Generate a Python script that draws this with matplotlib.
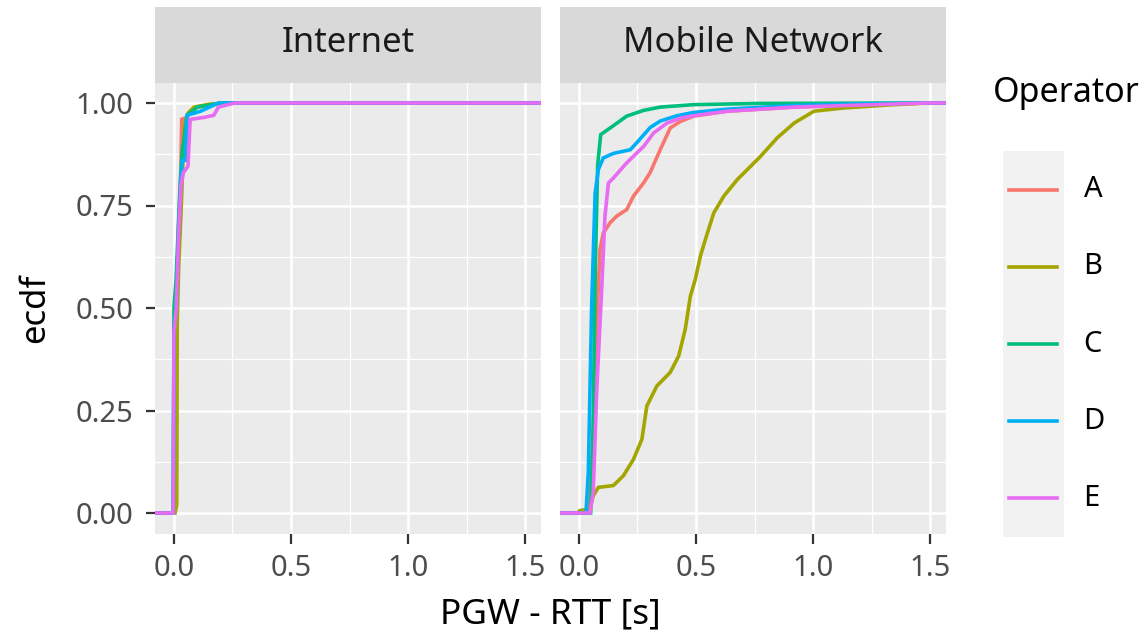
import matplotlib
matplotlib.use("Agg")
import matplotlib.pyplot as plt
from matplotlib.ticker import MultipleLocator

plt.rcParams['font.family'] = ['Noto Sans', 'DejaVu Sans']

# ---------------- data ----------------
operators = ["A", "B", "C", "D", "E"]
colors = ["#F8766D", "#A3A500", "#00BF7D", "#00B0F6", "#E76BF3"]
panel_titles = ["Internet", "Mobile Network"]
x_ticks = [0.0, 0.5, 1.0, 1.5]
x_tick_labels = ["0.0", "0.5", "1.0", "1.5"]
y_ticks = [0.0, 0.25, 0.5, 0.75, 1.0]
y_tick_labels = ["0.00", "0.25", "0.50", "0.75", "1.00"]

# Internet panel
inet_A_x = [-0.006, -0.002, 0.0, 0.01, 0.02, 0.03, 0.033, 0.055, 0.07, 0.1, 0.2, 1.49]
inet_A_y = [0.0, 0.0, 0.40, 0.50, 0.70, 0.85, 0.96, 0.965, 0.98, 0.99, 1.0, 1.0]
inet_B_x = [-0.006, 0.005, 0.012, 0.014, 0.02, 0.03, 0.04, 0.045, 0.06, 0.086, 0.15, 0.25, 1.49]
inet_B_y = [0.0, 0.0, 0.02, 0.46, 0.60, 0.73, 0.88, 0.95, 0.975, 0.99, 0.997, 1.0, 1.0]
inet_C_x = [-0.006, -0.003, 0.0, 0.005, 0.008, 0.015, 0.025, 0.035, 0.057, 0.1, 0.2, 1.49]
inet_C_y = [0.0, 0.0, 0.50, 0.54, 0.56, 0.65, 0.78, 0.88, 0.97, 0.99, 1.0, 1.0]
inet_D_x = [-0.006, -0.003, 0.0, 0.01, 0.02, 0.03, 0.035, 0.05, 0.055, 0.114, 0.19, 1.49]
inet_D_y = [0.0, 0.0, 0.45, 0.50, 0.70, 0.82, 0.86, 0.86, 0.97, 0.98, 1.0, 1.0]
inet_E_x = [-0.006, -0.003, 0.0, 0.01, 0.02, 0.03, 0.04, 0.06, 0.069, 0.13, 0.17, 0.19, 0.26, 1.49]
inet_E_y = [0.0, 0.0, 0.44, 0.50, 0.68, 0.80, 0.83, 0.846, 0.96, 0.965, 0.97, 0.99, 1.0, 1.0]

# Mobile Network panel
mob_A_x = [-0.006, 0.044, 0.061, 0.076, 0.09, 0.104, 0.133, 0.161, 0.204, 0.233, 0.276, 0.304,
           0.347, 0.39, 0.433, 0.49, 0.633, 0.919, 1.347, 1.49]
mob_A_y = [0.0, 0.0, 0.20, 0.464, 0.643, 0.683, 0.708, 0.724, 0.74, 0.773, 0.805, 0.83,
           0.886, 0.939, 0.955, 0.968, 0.98, 0.99, 0.998, 1.0]
mob_B_x = [-0.006, 0.004, 0.047, 0.061, 0.083, 0.147, 0.19, 0.233, 0.269, 0.29, 0.333, 0.39,
           0.426, 0.454, 0.476, 0.497, 0.519, 0.54, 0.576, 0.619, 0.676, 0.776, 0.847, 0.919,
           1.004, 1.133, 1.347, 1.49]
mob_B_y = [0.0, 0.006, 0.01, 0.042, 0.0625, 0.067, 0.091, 0.131, 0.18, 0.261, 0.31, 0.343,
           0.383, 0.448, 0.529, 0.57, 0.627, 0.667, 0.732, 0.773, 0.813, 0.87, 0.915, 0.951,
           0.98, 0.988, 0.996, 1.0]
mob_C_x = [-0.006, 0.05, 0.06, 0.07, 0.08, 0.093, 0.133, 0.204, 0.276, 0.347, 0.49, 0.776, 1.49]
mob_C_y = [0.0, 0.0, 0.20, 0.60, 0.85, 0.923, 0.939, 0.968, 0.982, 0.99, 0.996, 0.999, 1.0]
mob_D_x = [-0.006, 0.03, 0.04, 0.054, 0.069, 0.083, 0.104, 0.147, 0.219, 0.247, 0.304, 0.347,
           0.419, 0.49, 0.633, 0.919, 1.2, 1.49]
mob_D_y = [0.0, 0.0, 0.10, 0.50, 0.78, 0.838, 0.866, 0.877, 0.886, 0.903, 0.94, 0.956,
           0.969, 0.977, 0.985, 0.994, 0.998, 1.0]
mob_E_x = [-0.006, 0.047, 0.061, 0.076, 0.097, 0.111, 0.126, 0.147, 0.204, 0.276, 0.319, 0.376,
           0.433, 0.49, 0.633, 0.919, 1.204, 1.49]
mob_E_y = [0.0, 0.0, 0.05, 0.30, 0.545, 0.724, 0.805, 0.817, 0.854, 0.894, 0.927, 0.951,
           0.963, 0.969, 0.98, 0.99, 0.995, 1.0]

internet_series = [(inet_A_x, inet_A_y), (inet_B_x, inet_B_y), (inet_C_x, inet_C_y),
                   (inet_D_x, inet_D_y), (inet_E_x, inet_E_y)]
mobile_series = [(mob_A_x, mob_A_y), (mob_B_x, mob_B_y), (mob_C_x, mob_C_y),
                 (mob_D_x, mob_D_y), (mob_E_x, mob_E_y)]

# ---------------- layout ----------------
W, H = 1147, 634
fig = plt.figure(figsize=(W / 100, H / 100), dpi=100)


def fx(px):
    return px / W


def fy(py):
    return 1 - py / H


XLIM = (-0.081, 1.568)
YLIM = (-0.05, 1.05)
PANEL_TOP, PANEL_BOTTOM = 82.5, 533.5
STRIP_TOP = 7
panel_px = [(155, 541), (560, 946)]
LW = 2.6

for i, (title, (l, r), series) in enumerate(zip(panel_titles, panel_px,
                                                 [internet_series, mobile_series])):
    ax = fig.add_axes([fx(l), fy(PANEL_BOTTOM), fx(r) - fx(l), fy(PANEL_TOP) - fy(PANEL_BOTTOM)])
    ax.set_facecolor("#EBEBEB")
    for s in ax.spines.values():
        s.set_visible(False)
    ax.set_xlim(*XLIM)
    ax.set_ylim(*YLIM)
    ax.set_xticks(x_ticks)
    ax.set_xticklabels(x_tick_labels)
    ax.xaxis.set_minor_locator(MultipleLocator(0.25))
    ax.yaxis.set_minor_locator(MultipleLocator(0.125))
    ax.set_yticks(y_ticks)
    if i == 0:
        ax.set_yticklabels(y_tick_labels)
        ax.tick_params(axis="y", which="major", length=6.5, width=1.6, color="#333333",
                       labelcolor="#4D4D4D", labelsize=21, pad=9)
    else:
        ax.tick_params(axis="y", which="major", length=0, labelleft=False)
    ax.tick_params(axis="x", which="major", length=7.5, width=1.6, color="#333333",
                   labelcolor="#4D4D4D", labelsize=21, pad=7)
    ax.tick_params(which="minor", length=0)
    ax.grid(which="major", color="white", linewidth=1.8)
    ax.grid(which="minor", color="white", linewidth=0.9)
    ax.set_axisbelow(True)

    for (xs, ys), c in zip(series, colors):
        xx = [XLIM[0]] + list(xs) + [XLIM[1]]
        yy = [ys[0]] + list(ys) + [ys[-1]]
        ax.plot(xx, yy, color=c, linewidth=LW, solid_joinstyle="miter")

    sax = fig.add_axes([fx(l), fy(PANEL_TOP), fx(r) - fx(l), fy(STRIP_TOP) - fy(PANEL_TOP)])
    sax.set_facecolor("#D9D9D9")
    sax.set_xticks([])
    sax.set_yticks([])
    for s in sax.spines.values():
        s.set_visible(False)
    sax.text(0.5, 0.52, title, ha="center", va="center", fontsize=25, color="#1A1A1A",
             transform=sax.transAxes)

fig.text(fx(550.5), fy(614), "PGW - RTT [s]", ha="center", va="center", fontsize=25.5, color="black")
fig.text(fx(35), fy(308), "ecdf", ha="center", va="center", rotation=90, fontsize=25, color="black")

# ---------------- legend ----------------
fig.text(fx(993), fy(93), "Operator", ha="left", va="center", fontsize=24.5, color="black")
lax = fig.add_axes([fx(1003), fy(537), fx(1064) - fx(1003), fy(151) - fy(537)])
lax.set_facecolor("#F2F2F2")
lax.set_xlim(0, 1)
lax.set_ylim(len(operators), 0)
lax.set_xticks([])
lax.set_yticks([])
for s in lax.spines.values():
    s.set_visible(False)
for k, (name, c) in enumerate(zip(operators, colors)):
    lax.plot([0.1, 0.885], [k + 0.5, k + 0.5], color=c, linewidth=LW)
    lax.text(1.32, k + 0.5, name, ha="left", va="center", fontsize=21, color="black",
             transform=lax.transData, clip_on=False)

fig.savefig("out.png", dpi=100)
